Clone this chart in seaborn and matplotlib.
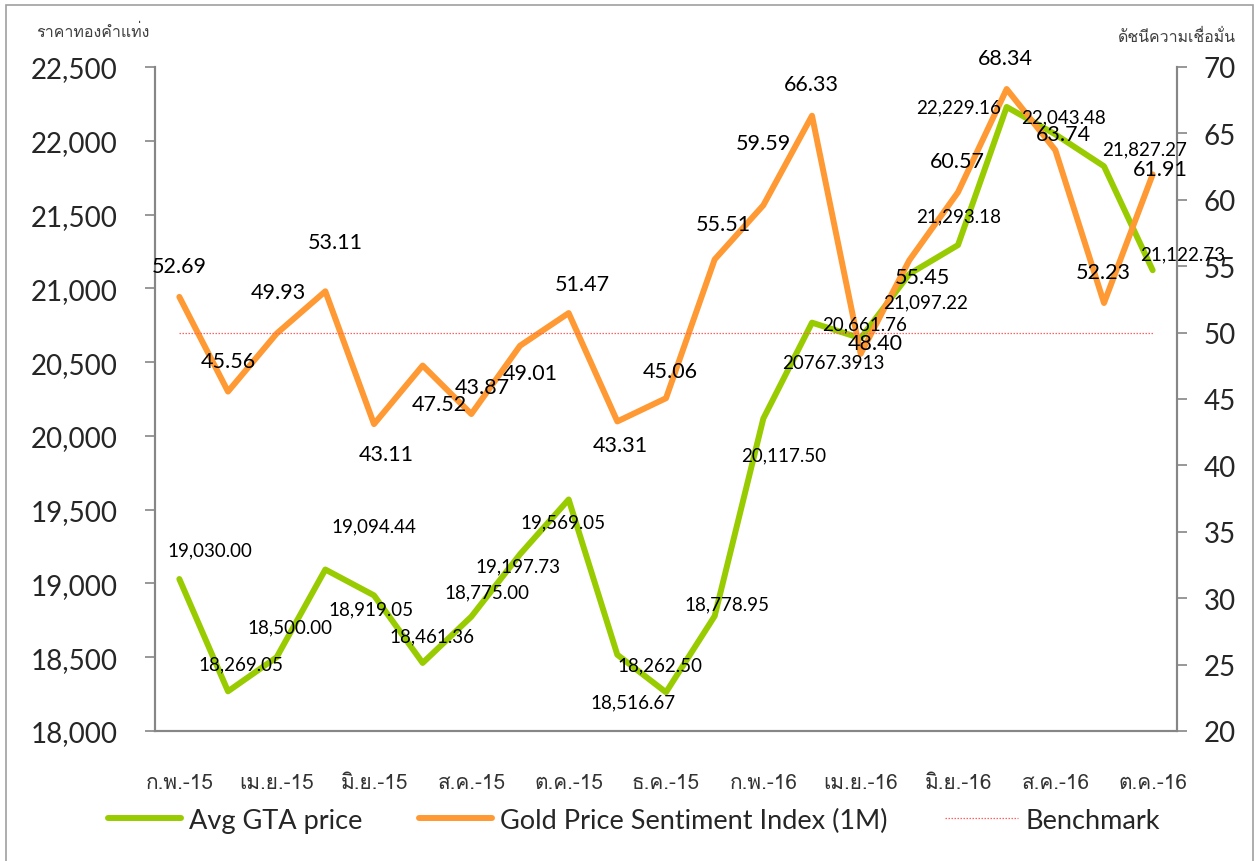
import matplotlib
matplotlib.use('Agg')
import matplotlib.pyplot as plt
import seaborn as sns
import pandas as pd
import numpy as np
from matplotlib import font_manager as fm
from matplotlib.lines import Line2D
from fontTools.ttLib import TTFont

# ---------- data ----------
months = ['ก.พ.-15', 'มี.ค.-15', 'เม.ย.-15', 'พ.ค.-15', 'มิ.ย.-15', 'ก.ค.-15', 'ส.ค.-15',
          'ก.ย.-15', 'ต.ค.-15', 'พ.ย.-15', 'ธ.ค.-15', 'ม.ค.-16', 'ก.พ.-16', 'มี.ค.-16',
          'เม.ย.-16', 'พ.ค.-16', 'มิ.ย.-16', 'ก.ค.-16', 'ส.ค.-16', 'ก.ย.-16', 'ต.ค.-16']
gta_price = [19030.00, 18269.05, 18500.00, 19094.44, 18919.05, 18461.36, 18775.00,
             19197.73, 19569.05, 18516.67, 18262.50, 18778.95, 20117.50, 20767.3913,
             20661.76, 21097.22, 21293.18, 22229.16, 22043.48, 21827.27, 21122.73]
gta_text = ['19,030.00', '18,269.05', '18,500.00', '19,094.44', '18,919.05', '18,461.36',
            '18,775.00', '19,197.73', '19,569.05', '18,516.67', '18,262.50', '18,778.95',
            '20,117.50', '20767.3913', '20,661.76', '21,097.22', '21,293.18', '22,229.16',
            '22,043.48', '21,827.27', '21,122.73']
sentiment = [52.69, 45.56, 49.93, 53.11, 43.11, 47.52, 43.87, 49.01, 51.47, 43.31, 45.06,
             55.51, 59.59, 66.33, 48.40, 55.45, 60.57, 68.34, 63.74, 52.23, 61.91]
benchmark = 50

# data-label nudges in pixels (dx right, dy down), as placed on the original
gta_offsets = [(31, -29), (13, -27), (13, -30), (49, -44), (-3, 13), (9, -27), (16, -25),
               (-2, 12), (-6, 22), (16, 47), (-6, -27), (12, -12), (20, 36), (21, 40),
               (4, -14), (16, 28), (1, -29), (-48, 0), (8, -17), (41, -17), (30, -16)]
sent_offsets = [(0, -31), (0, -31), (2, -42), (10, -49), (12, 30), (17, 38), (11, -27),
                (10, 27), (14, -29), (3, 24), (4, -27), (9, -35), (0, -62), (-1, -32),
                (15, -11), (13, 17), (-1, -31), (-1, -31), (8, -16), (-1, -31), (8, -5)]

GREEN = '#99CC00'
ORANGE = '#FF9933'
GREY = '#868686'
BENCH = '#FF6060'


def find_thai_font():
    """Look for any installed font that has Thai glyphs"""
    for path in sorted(fm.findSystemFonts()):
        try:
            f = TTFont(path, fontNumber=0, lazy=True)
            cmap = f.getBestCmap()
            if cmap and 0x0E01 in cmap and 0x0E48 in cmap:
                fm.fontManager.addfont(path)
                return fm.FontProperties(fname=path).get_name()
        except Exception:
            continue
    return None


sns.set_style('white')
thai = find_thai_font()
families = ['Lato', 'DejaVu Sans'] if thai is None else ['Lato', thai, 'DejaVu Sans']
thai_families = ['DejaVu Sans'] if thai is None else [thai, 'Lato']
plt.rcParams['font.family'] = families

df = pd.DataFrame({'idx': np.arange(len(months)), 'month': months,
                   'gta': gta_price, 'sentiment': sentiment,
                   'benchmark': [benchmark] * len(months)})

fig = plt.figure(figsize=(12.55, 8.62), dpi=100)
ax = fig.add_axes([155 / 1255, 1 - 732 / 862, (1177 - 155) / 1255, (732 - 68) / 862])
ax2 = ax.twinx()

line_kw = dict(linewidth=4.3, solid_joinstyle='round', solid_capstyle='round')
sns.lineplot(data=df, x='idx', y='gta', ax=ax, color=GREEN, **line_kw)
sns.lineplot(data=df, x='idx', y='sentiment', ax=ax2, color=ORANGE, **line_kw)
sns.lineplot(data=df, x='idx', y='benchmark', ax=ax2, color=BENCH,
             linewidth=0.9, linestyle=(0, (1.2, 1.2)))

# axes limits / ticks
ax.set_xlim(-0.5, len(months) - 0.5)
ax.set_ylim(18000, 22500)
ax2.set_ylim(20, 70)
ax.set_yticks(np.arange(18000, 22501, 500))
ax.set_yticklabels([f'{v:,.0f}' for v in np.arange(18000, 22501, 500)])
ax2.set_yticks(np.arange(20, 71, 5))

ax.set_xticks(np.arange(-0.5, len(months) - 1, 2))
ax.set_xticklabels([])
ax.set_xticks(np.arange(0, len(months), 2), minor=True)
ax.set_xticklabels(months[::2], minor=True, family=thai_families, fontsize=15, color='#333333')
ax.tick_params(axis='x', which='major', length=7, width=1.2, color=GREY)
ax.tick_params(axis='x', which='minor', length=0, pad=30)
ax.tick_params(axis='y', length=7, width=1.2, color=GREY, pad=20, labelsize=20)
ax2.tick_params(axis='y', length=7, width=1.2, color=GREY, pad=12, labelsize=20)

for a in (ax, ax2):
    a.set_xlabel('')
    a.set_ylabel('')
    a.grid(False)
    a.spines['top'].set_visible(False)
    for s in ('left', 'right', 'bottom'):
        a.spines[s].set_color(GREY)
        a.spines[s].set_linewidth(1.5)

# data labels
for i, (v, t) in enumerate(zip(gta_price, gta_text)):
    dx, dy = gta_offsets[i]
    ax2.annotate(t, xy=(i, v), xycoords=ax.transData, xytext=(dx, -dy),
                 textcoords='offset pixels', ha='center', va='center',
                 fontsize=13.5, color='black', zorder=5)
for i, v in enumerate(sentiment):
    dx, dy = sent_offsets[i]
    ax2.annotate(f'{v:.2f}', xy=(i, v), xytext=(dx, -dy),
                 textcoords='offset pixels', ha='center', va='center',
                 fontsize=15.5, color='black', zorder=5)

# axis titles (Thai)
fig.text(36 / 1255, 1 - 33 / 862, 'ราคาทองคำแท่ง', ha='left', va='center',
         fontsize=11.5, color='#404040', family=thai_families)
fig.text(1236 / 1255, 1 - 38 / 862, 'ดัชนีความเชื่อมั่น', ha='right', va='center',
         fontsize=11.5, color='#404040', family=thai_families)

# legend
handles = [Line2D([], [], color=GREEN, linewidth=4.3, solid_capstyle='round'),
           Line2D([], [], color=ORANGE, linewidth=4.3, solid_capstyle='round'),
           Line2D([], [], color=BENCH, linewidth=0.9, linestyle=(0, (1.2, 1.2)))]
fig.legend(handles, ['Avg GTA price', 'Gold Price Sentiment Index (1M)', 'Benchmark'],
           loc='center', bbox_to_anchor=(634 / 1255, 1 - 821 / 862), ncol=3,
           frameon=False, fontsize=19.5, handlelength=2.7, handletextpad=0.3,
           columnspacing=2.1)

# outer chart border
fig.add_artist(plt.Rectangle((6 / 1255, -0.01), 1247 / 1255, 1 - 6 / 862 + 0.01,
                             transform=fig.transFigure, fill=False,
                             edgecolor='#A0A0A0', linewidth=1.2))

fig.savefig('out.png', dpi=100)
